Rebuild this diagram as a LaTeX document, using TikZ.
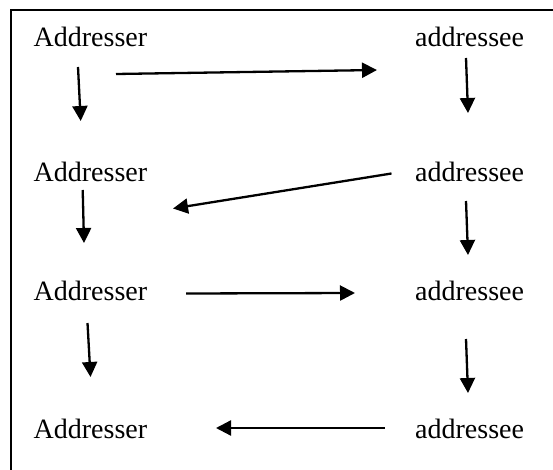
\documentclass[tikz,border=0pt]{standalone}
\usepackage{fontspec}
\setmainfont{Liberation Serif}
\usetikzlibrary{arrows.meta}
\tikzset{
  lbl/.style={anchor=base west,inner sep=0pt,font=\fontsize{28}{32}\selectfont},
  arr/.style={line width=2.3pt,-{Triangle[length=15pt,width=15pt]}},
  frame/.style={line width=1.8pt}
}
\begin{document}
\begin{tikzpicture}[x=1pt,y=-1pt]
\useasboundingbox (0,0) rectangle (553,470);
\coordinate (fa) at (11,470);
\coordinate (fb) at (11,10);
\coordinate (fc) at (553,10);
\draw[frame] (fa) -- (fb) -- (fc);
% texts
\node[lbl] (A1) at (33.5,47) {Addresser};
\node[lbl] (B1) at (415,47) {addressee};
\node[lbl] (A2) at (33.5,182) {Addresser};
\node[lbl] (B2) at (415,182) {addressee};
\node[lbl] (A3) at (33.5,300) {Addresser};
\node[lbl] (B3) at (415,300) {addressee};
\node[lbl] (A4) at (33.5,438) {Addresser};
\node[lbl] (B4) at (415,438) {addressee};
% arrow end coordinates
\coordinate (a1s) at (78,67);    \coordinate (a1e) at (80.7,121);
\coordinate (h1s) at (116,74);   \coordinate (h1e) at (377,70);
\coordinate (b1s) at (466,58);   \coordinate (b1e) at (468,113);
\coordinate (d2s) at (391.5,173.5); \coordinate (d2e) at (173,208.5);
\coordinate (a2s) at (82.7,190); \coordinate (a2e) at (84,243);
\coordinate (b2s) at (466,201);  \coordinate (b2e) at (468,255);
\coordinate (h3s) at (186,293.5);  \coordinate (h3e) at (355,293);
\coordinate (a3s) at (87.5,323); \coordinate (a3e) at (90.5,377);
\coordinate (b3s) at (466,339); \coordinate (b3e) at (468,393);
\coordinate (h4s) at (384.5,428); \coordinate (h4e) at (216,428);
\draw[arr] (a1s) -- (a1e);
\draw[arr] (h1s) -- (h1e);
\draw[arr] (b1s) -- (b1e);
\draw[arr] (d2s) -- (d2e);
\draw[arr] (a2s) -- (a2e);
\draw[arr] (b2s) -- (b2e);
\draw[arr] (h3s) -- (h3e);
\draw[arr] (a3s) -- (a3e);
\draw[arr] (b3s) -- (b3e);
\draw[arr] (h4s) -- (h4e);
\end{tikzpicture}
\end{document}
